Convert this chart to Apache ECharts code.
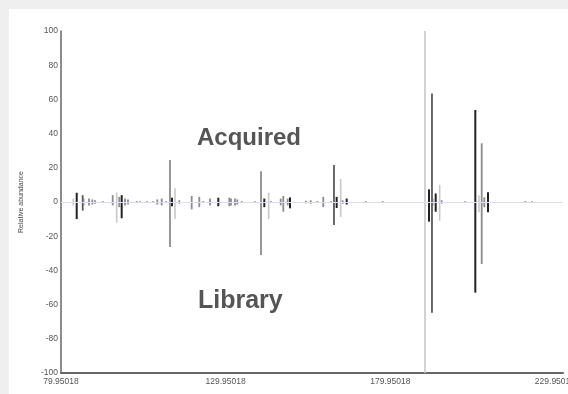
<!DOCTYPE html>
<html>
<head>
<meta charset="utf-8">
<script src="https://cdn.jsdelivr.net/npm/echarts@6/dist/echarts.min.js"></script>
<style>
  html, body { margin: 0; padding: 0; background: #efefef; }
  #chart { position: absolute; left: 9px; top: 9px; width: 559px; height: 385px; background: #fff; }
</style>
</head>
<body>
<div id="chart"></div>
<script>
// peaks: [m/z, acquired (up), library (down)]
const blackPeaks = [
  [84.72, 5.4, 10], [98.38, 4, 9.5], [113.66, 2.5, 2.5], [127.72, 2.5, 2.5],
  [141.69, 2, 3], [149.49, 2.7, 3.7], [163.67, 3, 3.5], [166.71, 2, 1.5],
  [191.70, 7.4, 11.5], [193.74, 5, 5.7], [205.77, 53.8, 53], [209.62, 5.7, 6]
];
const darkPeaks = [
  [86.54, 4, 5], [162.85, 21.6, 13.5], [192.61, 63.5, 64.7]
];
const midPeaks = [
  [88.45, 2, 2], [89.46, 1.5, 1.5], [90.27, 1, 1], [92.70, 0.5, 0.5],
  [95.65, 4, 2], [97.65, 3, 3], [99.39, 2, 2], [100.30, 1.5, 1.5],
  [102.94, 0.5, 0.5], [103.94, 0.5, 0.5], [106.07, 0.5, 0.5], [107.89, 0.5, 0.5],
  [109.19, 1.5, 1.5], [110.53, 2, 2], [111.84, 0.5, 0.5], [113.05, 24.5, 26.3],
  [115.87, 1, 1], [119.64, 3.5, 4.3], [121.95, 3, 3], [123.16, 0.5, 0.5],
  [125.20, 2, 2], [131.06, 2.5, 2.5], [131.58, 2, 2], [132.79, 2, 2],
  [133.49, 1.5, 1.5], [134.83, 0.5, 0.5], [138.86, 0.5, 0.5], [140.69, 18, 31],
  [143.72, 0.5, 0.5], [146.67, 2, 2], [147.46, 3.5, 5.7], [148.79, 2, 2],
  [154.35, 0.8, 0.8], [155.78, 1, 1], [157.78, 0.5, 0.5], [159.60, 3, 3],
  [161.94, 0.5, 0.5], [165.49, 1, 1], [172.57, 0.5, 0.5], [177.64, 0.5, 0.5],
  [195.56, 1, 1], [202.64, 0.5, 0.5], [207.71, 34.3, 36.3], [208.50, 2.7, 3],
  [220.95, 0.5, 0.5], [222.98, 0.5, 0.5]
];
const lightPeaks = [
  [83.69, 2, 2], [86.93, 2, 2], [96.86, 5.5, 12], [114.57, 8, 10],
  [143.02, 5.5, 10], [164.89, 13.5, 8.8], [190.49, 100, 100], [193.01, 2, 2],
  [194.95, 10, 11], [206.89, 4, 6]
];
const xTicks = ['79.95018', '129.95018', '179.95018', '229.95018'];

const chart = echarts.init(document.getElementById('chart'));

function sticks(name, data, color, width) {
  return {
    name: name,
    type: 'custom',
    data: data,
    encode: { x: 0, y: [1, 2] },
    renderItem: function (params, api) {
      const top = api.coord([api.value(0), api.value(1)]);
      const bot = api.coord([api.value(0), -api.value(2)]);
      return {
        type: 'line',
        shape: { x1: top[0], y1: top[1], x2: bot[0], y2: bot[1] },
        style: { stroke: color, lineWidth: width }
      };
    }
  };
}

const option = {
  animation: false,
  grid: { left: 52, top: 22, right: 5, bottom: 21, outerBoundsMode: 'none' },
  xAxis: {
    type: 'value',
    min: Number(xTicks[0]),
    max: 232.4,
    interval: 50,
    axisLine: { onZero: false, lineStyle: { color: '#666', width: 2 } },
    axisTick: { show: false },
    splitLine: { show: false },
    axisLabel: {
      color: '#555', fontSize: 8.5, fontFamily: 'Liberation Sans', margin: 4,
      showMaxLabel: false,
      formatter: function (v) {
        let best = xTicks[0];
        xTicks.forEach(function (t) {
          if (Math.abs(Number(t) - v) < Math.abs(Number(best) - v)) best = t;
        });
        return best;
      }
    }
  },
  yAxis: {
    type: 'value',
    min: -100,
    max: 100,
    interval: 20,
    name: 'Relative abundance',
    nameLocation: 'middle',
    nameGap: 36,
    nameTextStyle: { fontSize: 7, color: '#444', fontFamily: 'Liberation Sans' },
    axisLine: { show: true, onZero: false, lineStyle: { color: '#666', width: 1.5 } },
    axisTick: { show: false },
    splitLine: { show: false },
    axisLabel: { color: '#555', fontSize: 8.5, fontFamily: 'Liberation Sans', margin: 3 }
  },
  graphic: [
    { type: 'text', left: 188, top: 117, style: { text: 'Acquired', fill: '#555', font: 'bold 24px "Liberation Sans"' } },
    { type: 'text', left: 189, top: 280, style: { text: 'Library', fill: '#555', font: 'bold 25px "Liberation Sans"' } }
  ],
  series: [
    Object.assign(sticks('zero', [], '#000', 1), {
      markLine: {
        silent: true, symbol: 'none', label: { show: false },
        lineStyle: { color: '#dcdcf6', width: 1, type: 'solid' },
        data: [{ yAxis: 0 }]
      }
    }),
    sticks('light', lightPeaks, '#c8c8c8', 1.6),
    sticks('mid', midPeaks, '#8c8c8c', 1.8),
    sticks('dark', darkPeaks, '#5a5a5a', 1.8),
    sticks('black', blackPeaks, '#222', 2)
  ]
};

chart.setOption(option);
window.addEventListener('resize', function () { chart.resize(); });
</script>
</body>
</html>
